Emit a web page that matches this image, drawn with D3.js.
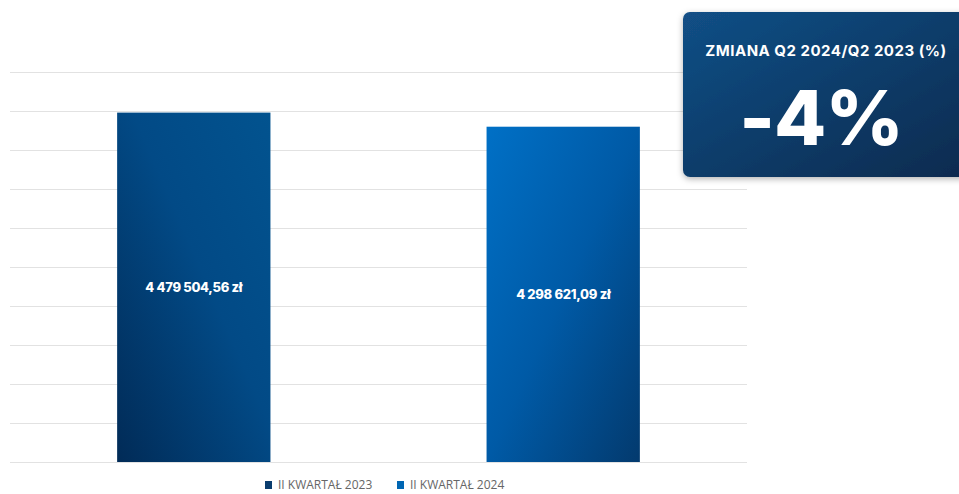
<!DOCTYPE html>
<html>
<head>
<meta charset="utf-8">
<script src="https://cdn.jsdelivr.net/npm/d3@7"></script>
<style>
  html, body { margin: 0; padding: 0; background: #ffffff; }
  svg { display: block; }
</style>
</head>
<body>
<svg id="chart" width="959" height="494"></svg>
<script>
// Quarterly totals (PLN)
const categories = ["II KWARTAŁ 2023", "II KWARTAŁ 2024"];
const values = [4479504.56, 4298621.09];
const valueLabels = ["4 479 504,56 zł", "4 298 621,09 zł"];
const yTicks = [0, 500000, 1000000, 1500000, 2000000, 2500000, 3000000, 3500000, 4000000, 4500000, 5000000];
const changeTitle = "ZMIANA Q2 2024/Q2 2023 (%)";
const changeValue = "-4%";

const svg = d3.select("#chart");
const defs = svg.append("defs");

// Bar gradients: lighter at the top, darker towards the base
const g1 = defs.append("linearGradient").attr("id", "bar0")
  .attr("x1", "1").attr("y1", "0").attr("x2", "0").attr("y2", "1");
g1.append("stop").attr("offset", "0%").attr("stop-color", "#02538f");
g1.append("stop").attr("offset", "45%").attr("stop-color", "#024a86");
g1.append("stop").attr("offset", "100%").attr("stop-color", "#012b57");

const g2 = defs.append("linearGradient").attr("id", "bar1")
  .attr("x1", "0").attr("y1", "0").attr("x2", "1").attr("y2", "1");
g2.append("stop").attr("offset", "0%").attr("stop-color", "#0070c6");
g2.append("stop").attr("offset", "50%").attr("stop-color", "#005aa6");
g2.append("stop").attr("offset", "100%").attr("stop-color", "#033a6e");

const boxGrad = defs.append("linearGradient").attr("id", "boxGrad")
  .attr("x1", "0").attr("y1", "0").attr("x2", "1").attr("y2", "1");
boxGrad.append("stop").attr("offset", "0%").attr("stop-color", "#124f86");
boxGrad.append("stop").attr("offset", "100%").attr("stop-color", "#082a4e");

const shadow = defs.append("filter").attr("id", "shadow")
  .attr("x", "-10%").attr("y", "-10%").attr("width", "130%").attr("height", "140%");
shadow.append("feDropShadow").attr("dx", 0).attr("dy", 2).attr("stdDeviation", 3)
  .attr("flood-color", "#000").attr("flood-opacity", 0.3);

const margin = { left: 10, right: 212, top: 72, bottom: 32 };
const width = 959 - margin.left - margin.right;
const height = 494 - margin.top - margin.bottom;

const x = d3.scaleBand().domain(categories).range([0, width]).paddingInner(0.585).paddingOuter(0.29);
const y = d3.scaleLinear().domain([0, 5000000]).range([height, 0]);

const plot = svg.append("g").attr("transform", `translate(${margin.left},${margin.top})`);

// Horizontal gridlines
const yAxis = d3.axisLeft(y).tickValues(yTicks).tickSize(-width).tickFormat("");
plot.append("g").call(yAxis)
  .call(g => g.select(".domain").remove())
  .call(g => g.selectAll(".tick line").attr("stroke", "#e2e2e2").attr("stroke-width", 1));

// Bars
plot.selectAll("rect.bar").data(values).join("rect")
  .attr("class", "bar")
  .attr("x", (d, i) => x(categories[i]))
  .attr("y", d => y(d))
  .attr("width", x.bandwidth())
  .attr("height", d => height - y(d))
  .attr("fill", (d, i) => `url(#bar${i})`);

// Value labels in the middle of each bar
plot.selectAll("text.val").data(values).join("text")
  .attr("class", "val")
  .attr("x", (d, i) => x(categories[i]) + x.bandwidth() / 2)
  .attr("y", d => (y(d) + height) / 2)
  .attr("dy", "0.35em")
  .attr("text-anchor", "middle")
  .attr("fill", "#ffffff")
  .attr("font-family", "Inter, Roboto, sans-serif")
  .attr("font-weight", 800)
  .attr("font-size", 13)
  .attr("letter-spacing", -0.3)
  .text((d, i) => valueLabels[i]);

// Legend
const legendColors = ["#0a3d6e", "#0066b3"];
const legend = svg.append("g").attr("transform", "translate(0,489)");
const legendX = [265, 397];
categories.forEach((c, i) => {
  legend.append("rect").attr("x", legendX[i]).attr("y", -8).attr("width", 7).attr("height", 8)
    .attr("fill", legendColors[i]);
  legend.append("text").attr("x", legendX[i] + 13).attr("y", 0)
    .attr("fill", "#666666")
    .attr("font-family", "'Open Sans', sans-serif")
    .attr("font-size", 12)
    .text(c);
});

// Change summary card
const card = svg.append("g");
card.append("rect").attr("x", 683).attr("y", 12).attr("width", 290).attr("height", 165).attr("rx", 7)
  .attr("fill", "url(#boxGrad)").attr("filter", "url(#shadow)");
card.append("text").attr("x", 826).attr("y", 56).attr("text-anchor", "middle")
  .attr("fill", "#ffffff")
  .attr("font-family", "Inter, 'Open Sans', sans-serif")
  .attr("font-weight", 700).attr("font-size", 15)
  .attr("letter-spacing", 0.5)
  .text(changeTitle);
card.append("text").attr("x", 821).attr("y", 145).attr("text-anchor", "middle")
  .attr("fill", "#ffffff")
  .attr("font-family", "Inter, 'Open Sans', sans-serif")
  .attr("font-weight", 800).attr("font-size", 76)
  .attr("letter-spacing", -1)
  .text(changeValue);
</script>
</body>
</html>
